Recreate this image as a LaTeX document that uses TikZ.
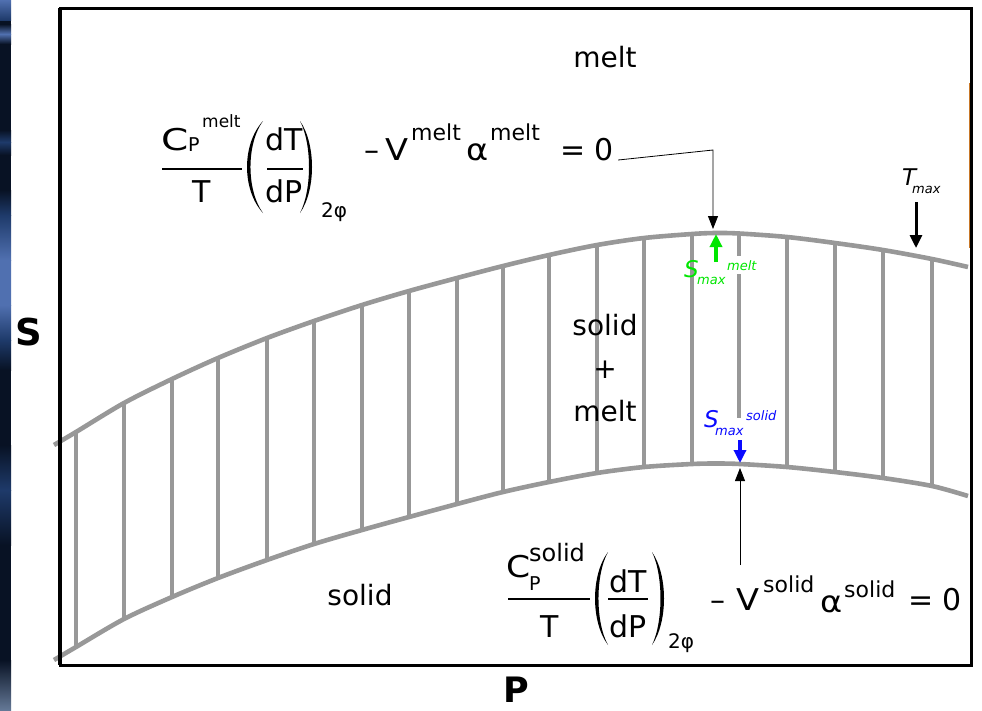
\documentclass[tikz,border=0pt]{standalone}
\usepackage{fontspec}
\setmainfont{DejaVu Sans}
\usetikzlibrary{arrows.meta}
\definecolor{curvegray}{RGB}{152,152,152}
\definecolor{smeltgreen}{RGB}{0,230,0}
\definecolor{ssolidblue}{RGB}{10,10,255}
\definecolor{edgeorange}{RGB}{200,120,40}
\definecolor{navyA}{RGB}{8,18,36}
\definecolor{navyB}{RGB}{30,58,106}
\definecolor{navyC}{RGB}{80,112,176}
\definecolor{navyD}{RGB}{100,120,150}
\begin{document}
\begin{tikzpicture}[x=1pt,y=-1pt,
  eqbig/.style={inner sep=0pt, anchor=base west, font=\fontsize{30}{34}\selectfont},
  eqmid/.style={inner sep=0pt, anchor=base west, font=\fontsize{30}{34}\selectfont},
  eqsup/.style={inner sep=0pt, anchor=base west, font=\fontsize{22}{26}\selectfont},
  eqsml/.style={inner sep=0pt, anchor=base west, font=\fontsize{19}{22}\selectfont},
  region/.style={inner sep=0pt, font=\fontsize{28}{43}\selectfont, align=center},
  axislabel/.style={inner sep=0pt, font=\fontsize{37}{40}\selectfont\bfseries},
  hatch/.style={curvegray, line width=3.2pt},
  phasecurve/.style={curvegray, line width=4.6pt},
  fracbar/.style={line width=2.4pt},
  leader/.style={line width=0.8pt, -{Triangle[length=13pt,width=10pt]}},
  fatarrow/.style={line width=3.6pt, -{Triangle[length=13pt,width=12pt]}},
  ital/.style={inner sep=0pt, anchor=base west, font=\fontsize{23}{26}\selectfont\itshape},
  italsub/.style={inner sep=0pt, anchor=base west, font=\fontsize{13}{16}\selectfont\itshape},
]
\useasboundingbox (0,0) rectangle (982,710);
\fill[white] (0,0) rectangle (982,710);

% dark slide edge at the left
\fill[navyA] (0,0) rectangle (11,710);
\shade[top color=navyC, bottom color=navyB] (0,0) rectangle (11,20);
\shade[top color=navyA, bottom color=navyC] (0,24) rectangle (11,34);
\shade[top color=navyC, bottom color=navyA] (0,34) rectangle (11,44);
\shade[top color=navyA, bottom color=navyB] (0,130) rectangle (11,142);
\shade[top color=navyB, bottom color=navyA] (0,142) rectangle (11,155);
\shade[top color=navyA, bottom color=navyB] (0,190) rectangle (11,215);
\shade[top color=navyB, bottom color=navyC] (0,215) rectangle (11,260);
\shade[top color=navyC, bottom color=navyC] (0,260) rectangle (11,305);
\shade[top color=navyC, bottom color=navyB] (0,305) rectangle (11,340);
\shade[top color=navyB, bottom color=navyA] (0,340) rectangle (11,370);
\shade[top color=navyA, bottom color=navyB] (0,445) rectangle (11,490);
\shade[top color=navyB, bottom color=navyA] (0,490) rectangle (11,545);
\shade[top color=navyA, bottom color=navyD] (0,660) rectangle (11,710);

% tie lines in the two-phase region
\foreach \xx/\ya/\yb in {76/432/647,124/403/619,172/379/597,218/358/578,267/338/560,
  314/321/544,362/305/530,409/291/517,457/278/504,503/266/492,549/255/482,597/245/473,
  644/238/467,692/234/464,787/237/467,835/243/472,883/250/478,932/259/486}
  \draw[hatch] (\xx,\ya) -- (\xx,\yb);
\draw[hatch] (739,233) -- (739,256);
\draw[hatch] (739,274) -- (739,418);

% phase boundaries
\draw[phasecurve] plot[smooth] coordinates {(54,445) (76,432) (124,403) (172,379) (218,358)
  (267,338) (314,321) (362,305) (409,291) (457,278) (503,266) (549,255) (597,245) (644,238)
  (692,234) (715,233) (739,233.5) (787,237) (835,243) (883,250) (932,259) (968,267)};
\draw[phasecurve] plot[smooth] coordinates {(54,660) (76,647) (124,619) (172,597) (218,578)
  (267,560) (314,544) (362,530) (409,517) (457,504) (503,492) (549,482) (597,473) (644,467)
  (692,464) (716,463.5) (740,464) (787,467) (835,472) (883,478) (932,486) (968,496)};

% frame
\draw[line width=3pt] (60,8) rectangle (971,665);
\draw[line width=4pt] (60,8) -- (60,665);
\draw[edgeorange, line width=1.2pt] (969.3,83) -- (969.3,248);

% region and axis labels
\node[region] (lmelt) at (605,57) {melt};
\node[region] (ltwo) at (605,368) {solid\\+\\melt};
\node[region] (lsolid) at (360,595) {solid};
\node[axislabel] (laxS) at (29,332) {S};
\node[axislabel, font=\fontsize{35}{38}\selectfont\bfseries] (laxP) at (516,690) {P};

% upper equation
\node[eqbig] (tc) at (161,150) {\scalebox{1.3}[1]{C}};
\node[eqsml] (tcp) at (188,151) {P};
\node[eqsml, font=\fontsize{17}{20}\selectfont] (tcm) at (202,127) {melt};
\draw[fracbar] (162,169) -- (242,169);
\node[eqbig, anchor=base] (tt) at (202,202) {T};
\fill (263,121) .. controls (241.7,144) and (241.7,190) .. (263,213)
  .. controls (246.3,190) and (246.3,144) .. (263,121) -- cycle;
\node[eqbig, anchor=base] (tdt) at (284,150) {dT};
\draw[fracbar] (267,169) -- (303,169);
\node[eqbig, anchor=base] (tdp) at (284,202) {dP};
\fill (300,121) .. controls (316,144) and (316,190) .. (300,213)
  .. controls (312,190) and (312,144) .. (300,121) -- cycle;
\node[eqsml, font=\fontsize{20}{22}\selectfont] (t2p) at (321,217) {2φ};
\node[eqmid] (tmin) at (364,160) {–};
\node[eqmid] (tv) at (385,160) {\scalebox{1.12}[1]{V}};
\node[eqsup] (tvm) at (411,140) {melt};
\node[eqmid] (ta) at (466,160) {\scalebox{1.12}[1]{α}};
\node[eqsup] (tam) at (490,140) {melt};
\node[eqmid] (tz) at (560,160) {= 0};

% lower equation
\node[eqbig] (bc) at (506,577) {\scalebox{1.15}[1]{C}};
\node[eqsml] (bcp) at (529,590) {P};
\node[eqsup, font=\fontsize{24}{26}\selectfont] (bcs) at (529,561) {solid};
\draw[fracbar] (508,599) -- (590,599);
\node[eqbig, anchor=base] (bt) at (550,637) {T};
\fill (608,552) .. controls (590.7,575) and (590.7,622) .. (608,645)
  .. controls (595.3,622) and (595.3,575) .. (608,552) -- cycle;
\node[eqbig, anchor=base] (bdt) at (628,592) {dT};
\draw[fracbar] (608,599) -- (648,599);
\node[eqbig, anchor=base] (bdp) at (628,637) {dP};
\fill (652,552) .. controls (668,575) and (668,622) .. (652,645)
  .. controls (663.3,622) and (663.3,575) .. (652,552) -- cycle;
\node[eqsml, font=\fontsize{20}{22}\selectfont] (b2p) at (668,648) {2φ};
\node[eqmid] (bmin) at (710,610) {–};
\node[eqmid] (bv) at (736,610) {\scalebox{1.12}[1]{V}};
\node[eqsup] (bvs) at (763,592) {solid};
\node[eqmid] (ba) at (820,612) {\scalebox{1.12}[1]{α}};
\node[eqsup] (bas) at (844,597) {solid};
\node[eqmid] (bz) at (908,610) {= 0};

% S_max melt (green)
\node[ital, text=smeltgreen] (gS) at (684,277) {S};
\node[italsub, text=smeltgreen] (gmax) at (697,284) {max};
\node[italsub, text=smeltgreen] (gmelt) at (727,270) {melt};
\coordinate (gtail) at (716,262);
\coordinate (gtip) at (716,234);
\draw[fatarrow, smeltgreen] (gtail) -- (gtip);

% S_max solid (blue)
\node[ital, text=ssolidblue] (bS) at (704,427) {S};
\node[italsub, text=ssolidblue] (bmax) at (715,435) {max};
\node[italsub, text=ssolidblue] (bsolid) at (746,420) {solid};
\coordinate (btail) at (740,440);
\coordinate (btip) at (740,463);
\draw[fatarrow, ssolidblue, line width=3.2pt] (btail) -- (btip);

% T_max
\node[ital] (tT) at (902,185) {T};
\node[italsub] (tmax) at (912,193) {max};
\coordinate (ttail) at (916,202);
\coordinate (ttip) at (916,248);
\draw[fatarrow, line width=3pt] (ttail) -- (ttip);

% leader lines from the equations
\coordinate (tbend) at (713,150);
\coordinate (tmeltpt) at (713,229);
\draw[leader] ([xshift=4pt]tz.base east) -- (tbend) -- (tmeltpt);
\coordinate (bfoot) at (740,565);
\coordinate (bsolidpt) at (740,468);
\draw[leader] (bfoot) -- (bsolidpt);
\end{tikzpicture}
\end{document}
